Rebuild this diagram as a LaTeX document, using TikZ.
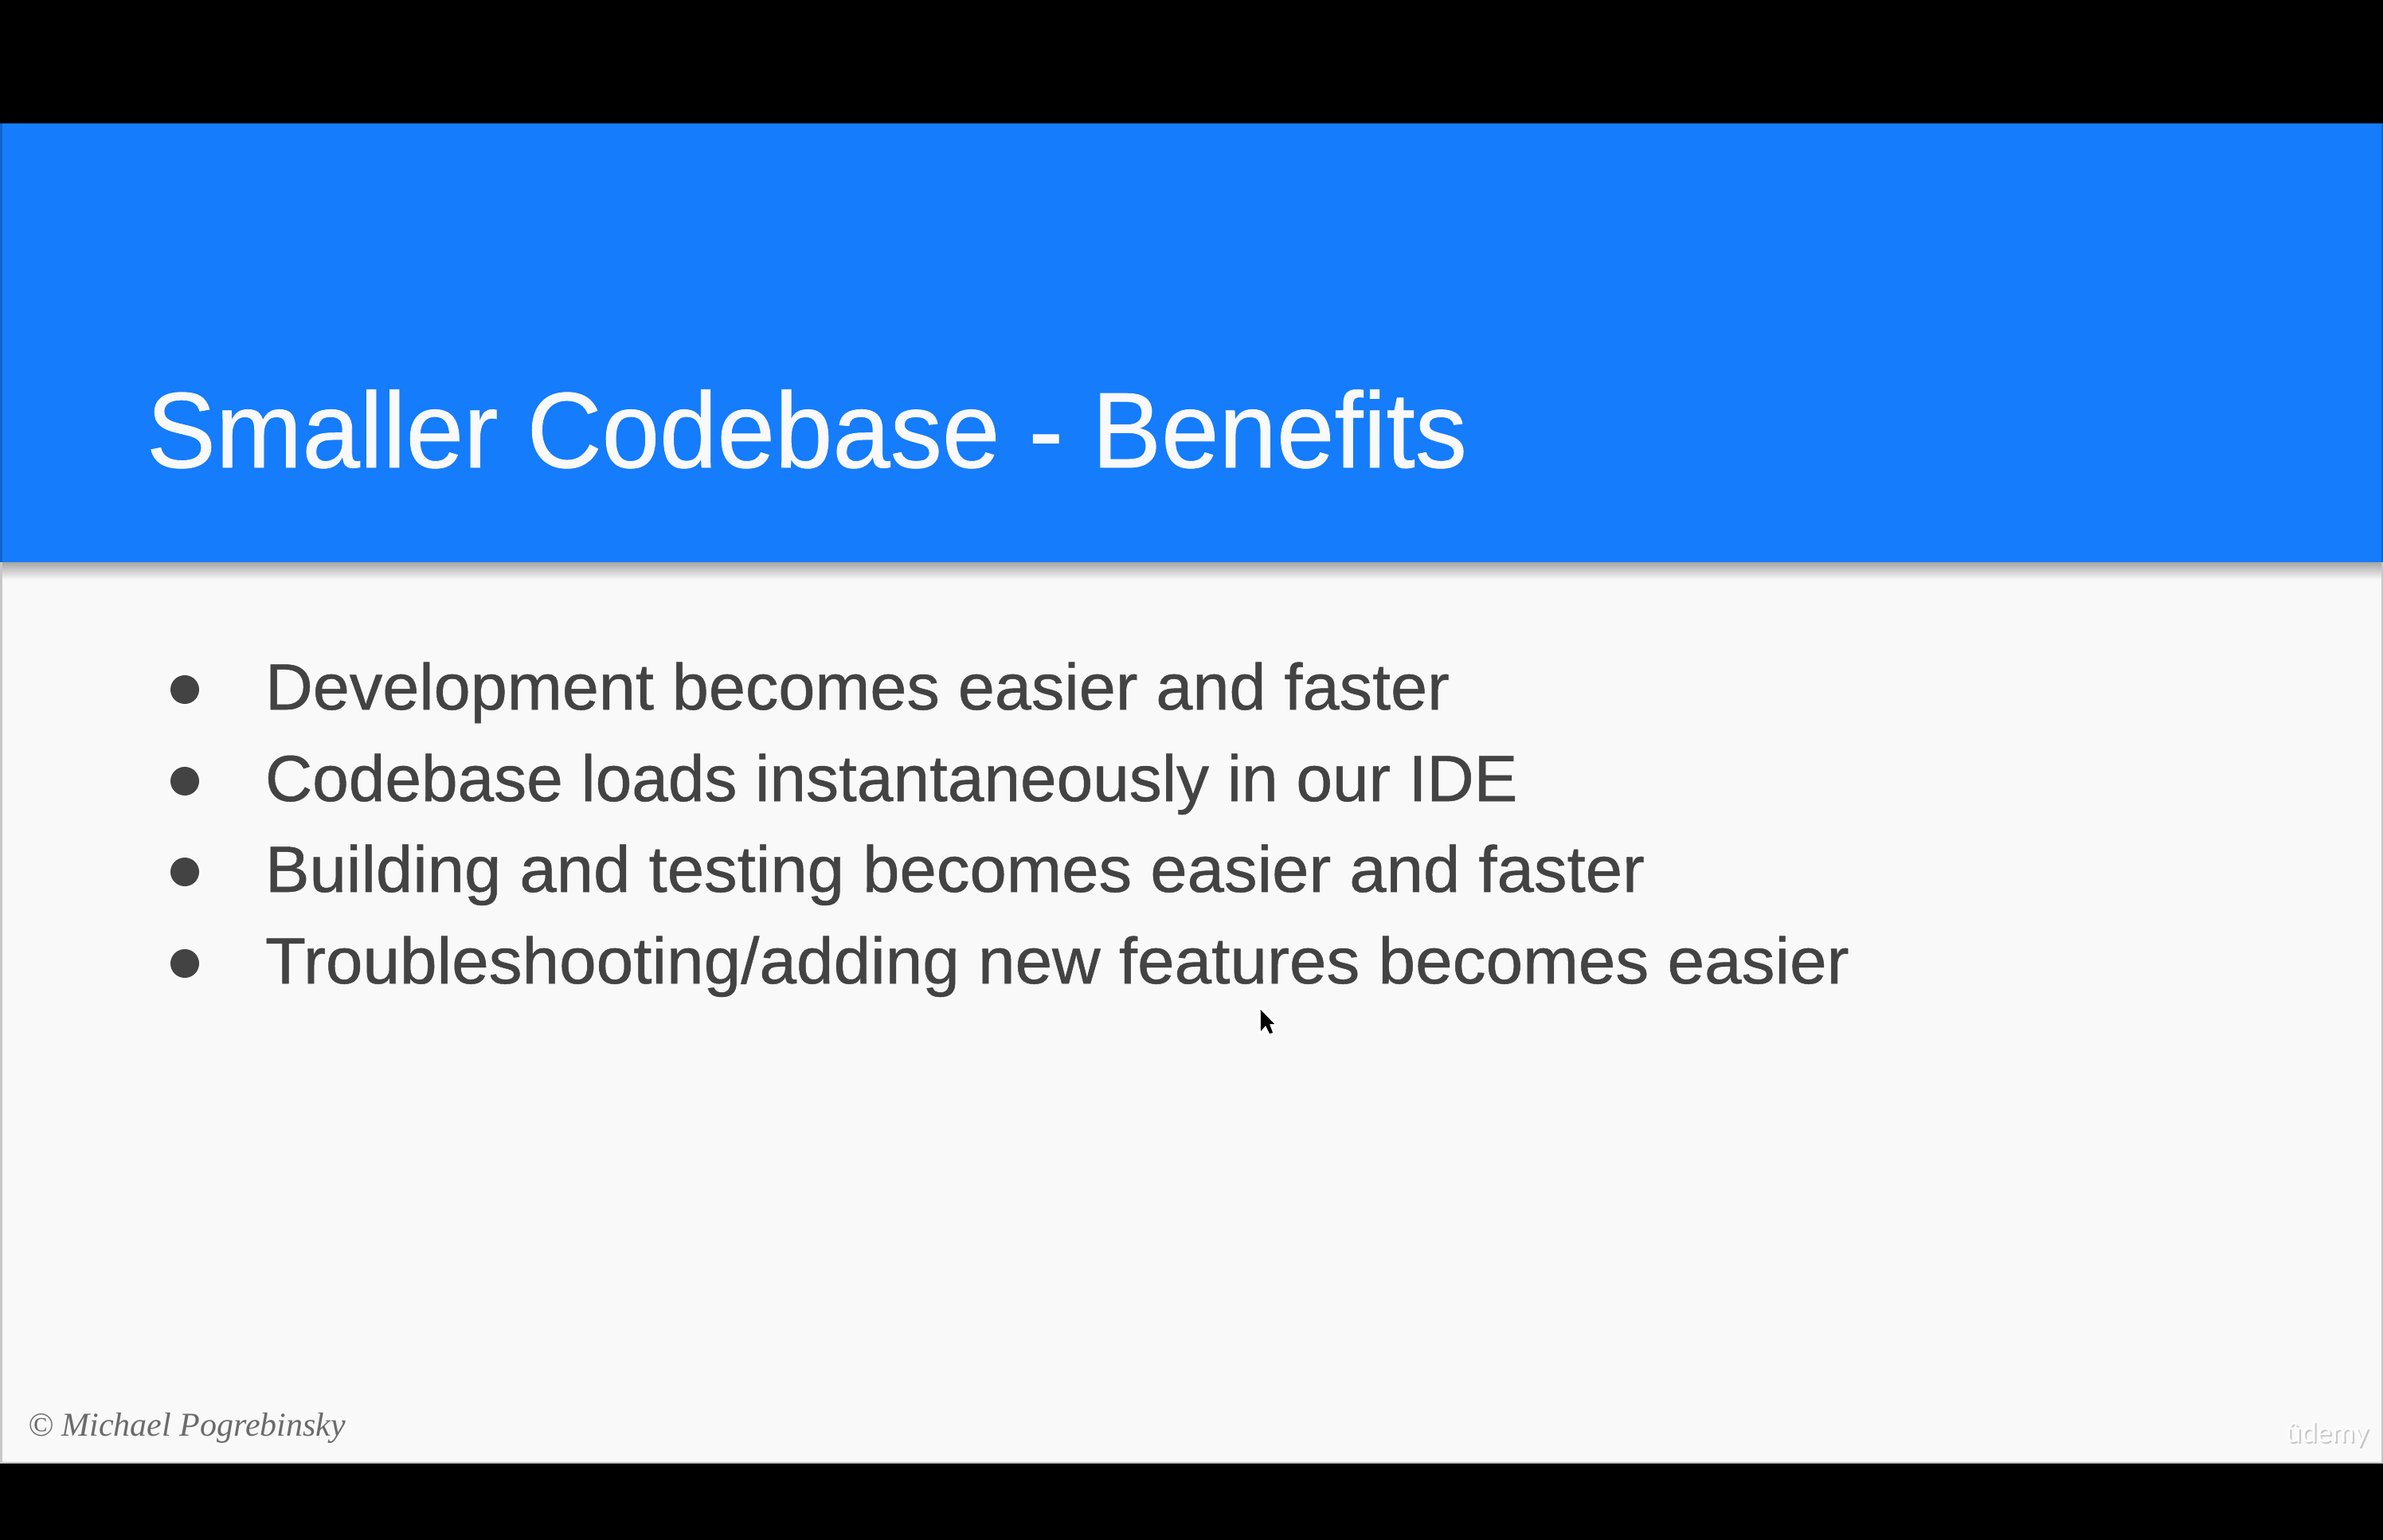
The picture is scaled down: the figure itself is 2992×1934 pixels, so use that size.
\documentclass[tikz,border=0pt]{standalone}
\usepackage{fontspec}
\setmainfont{Liberation Sans}
\newfontfamily\titlefont[FakeStretch=0.965,FakeBold=0.6]{Liberation Sans}
\newfontfamily\itemfonta[FakeStretch=1.010,FakeBold=0.6]{Liberation Sans}
\newfontfamily\itemfontb[FakeStretch=1.000,FakeBold=0.6]{Liberation Sans}
\newfontfamily\itemfontc[FakeStretch=1.016,FakeBold=0.6]{Liberation Sans}
\newfontfamily\itemfontd[FakeStretch=1.021,FakeBold=0.6]{Liberation Sans}
\newfontfamily\copyfont[Ligatures=TeX]{Liberation Serif}
\newfontfamily\logofont{Lato}
\definecolor{slideblue}{HTML}{157CFB}
\definecolor{slidebg}{HTML}{F9F9F9}
\definecolor{bodytext}{HTML}{434343}
\definecolor{edgegray}{HTML}{C8C8C8}
\tikzset{
  every node/.style={inner sep=0pt,outer sep=0pt},
  titletext/.style={anchor=base west,text=slidebg,font=\titlefont\fontsize{135}{160}\selectfont},
  itemtext/.style={anchor=base west,text=bodytext},
  itemsize/.style={font=#1\fontsize{82}{100}\selectfont},
  bulletdot/.style={fill=bodytext,draw=none},
  creditline/.style={anchor=base west,text=black!58,font=\copyfont\itshape\fontsize{42}{50}\selectfont},
  logotext/.style={anchor=base west,font=\logofont\fontsize{35}{40}\selectfont}
}
\begin{document}
\begin{tikzpicture}[x=1pt,y=-1pt]
\useasboundingbox (0,0) rectangle (2992,1934);
\fill[black] (0,0) rectangle (2992,1934);
\fill[slidebg] (0,155) rectangle (2992,1838);
\fill[slideblue] (0,155) rectangle (2992,706);
\shade[top color=black!35,bottom color=slidebg] (0,706) rectangle (2992,728);
\fill[edgegray] (0,706) rectangle (2.5,1838);
\fill[edgegray] (2989.5,706) rectangle (2992,1838);
\fill[edgegray] (0,1835.5) rectangle (2992,1838);
\fill[slideblue!80!black] (0,155) rectangle (2.5,706);
\fill[slideblue!80!black] (2989.5,155) rectangle (2992,706);

\node[titletext] (title) at (184,587) {Smaller Codebase - Benefits};

\node[itemtext,itemsize=\itemfonta] (i1) at (333,891) {Development becomes easier and faster};
\node[itemtext,itemsize=\itemfontb] (i2) at (333,1006) {Codebase loads instantaneously in our IDE};
\node[itemtext,itemsize=\itemfontc] (i3) at (333,1120) {Building and testing becomes easier and faster};
\node[itemtext,itemsize=\itemfontd] (i4) at (333,1235) {Troubleshooting/adding new features becomes easier};
\foreach \yy in {866,981,1095,1210} \fill[bulletdot] (232,\yy) circle[radius=18];

\node[creditline] (credit) at (35,1803) {© Michael Pogrebinsky};

\node[logotext,text=black!22] (logoshadow) at (2872,1813) {ûdemy};
\node[logotext,text=white] (logo) at (2870,1811) {ûdemy};

\draw[white,line width=6pt,line join=round]
  (1582.7,1268) -- (1583,1295) -- (1589,1288) -- (1594,1298) -- (1598,1297) -- (1594,1286) -- (1600,1286) -- cycle;
\fill[black]
  (1582.7,1268) -- (1583,1295) -- (1589,1288) -- (1594,1298) -- (1598,1297) -- (1594,1286) -- (1600,1286) -- cycle;
\end{tikzpicture}
\end{document}
